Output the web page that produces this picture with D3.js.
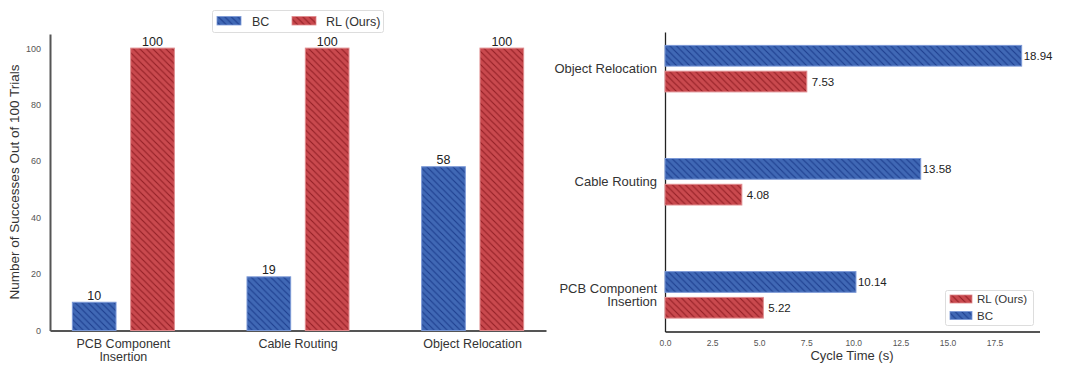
<!DOCTYPE html>
<html><head><meta charset="utf-8">
<script src="https://cdn.jsdelivr.net/npm/d3@7"></script>
<style>body{margin:0;background:#fff}svg{display:block;font-family:"Liberation Sans",Arial,sans-serif}</style>
</head><body><svg id="c" width="1080" height="369"></svg>
<script>
const tasks = ["PCB Component\nInsertion", "Cable Routing", "Object Relocation"];
const successBC = [10, 19, 58];
const successRL = [100, 100, 100];
const cycleBC = [10.14, 13.58, 18.94];
const cycleRL = [5.22, 4.08, 7.53];
const successTicks = [0, 20, 40, 60, 80, 100];
const cycleTicks = [0, 2.5, 5, 7.5, 10, 12.5, 15, 17.5];
const seriesNames = ["BC", "RL (Ours)"];

const svg = d3.select("#c");
const defs = svg.append("defs");
const colors = {BC:{fill:"#4068b5", hatch:"#1d3e8f", edge:"#7b98d6"}, RL:{fill:"#c9494e", hatch:"#931f25", edge:"#e08a8d"}};
function pattern(id, c){
  const s = 6.5;
  const p = defs.append("pattern").attr("id", id).attr("patternUnits","userSpaceOnUse").attr("width",s).attr("height",s);
  p.append("rect").attr("width",s).attr("height",s).attr("fill",c.fill);
  p.append("path").attr("d",`M-1,-1L${s+1},${s+1}M-1,${s-1}L1,${s+1}M${s-1},-1L${s+1},1`).attr("stroke",c.hatch).attr("stroke-width",1.1);
}
pattern("hBC", colors.BC); pattern("hRL", colors.RL);

// ---------- Left chart ----------
const L = svg.append("g");
const x1 = d3.scaleLinear().domain([-0.42, 2.42]).range([50, 546]);
const y1 = d3.scaleLinear().domain([0, 105]).range([330.5, 34]);
const bw = 0.25, off = 0.167;

const yAx = L.append("g").attr("transform","translate(50,0)").call(d3.axisLeft(y1).tickValues(successTicks).tickSize(0).tickPadding(9));
yAx.select(".domain").attr("stroke","#555").attr("stroke-width",2);
yAx.selectAll("text").attr("font-size",9).attr("fill","#555").attr("font-family","Liberation Sans, Arial");
const xAx = L.append("g").attr("transform","translate(0,330.5)").call(d3.axisBottom(x1).tickValues([]).tickSize(0));
xAx.select(".domain").attr("stroke","#555").attr("stroke-width",2);

tasks.forEach((t,i)=>{
  const lines = t.split("\n");
  const tx = L.append("text").attr("x", x1(i)).attr("y", 348).attr("text-anchor","middle").attr("font-size",12.5).attr("fill","#333");
  lines.forEach((ln,k)=>tx.append("tspan").attr("x", x1(i)).attr("dy", k===0?0:12.5).text(ln));
});

function vbars(vals, key, dx){
  L.selectAll(null).data(vals).enter().append("rect")
    .attr("x",(d,i)=>x1(i+dx-bw/2)).attr("width",x1(bw)-x1(0))
    .attr("y",d=>y1(d)).attr("height",d=>y1(0)-y1(d))
    .attr("fill","url(#h"+key+")").attr("stroke",colors[key].edge).attr("stroke-width",1);
  L.selectAll(null).data(vals).enter().append("text")
    .attr("x",(d,i)=>x1(i+dx)).attr("y",d=>y1(d)-2.5).attr("text-anchor","middle")
    .attr("font-size",12.5).attr("fill","#222").text(d=>d);
}
vbars(successBC,"BC",-off);
vbars(successRL,"RL",off);

L.append("text").attr("transform","translate(19,182) rotate(-90)").attr("text-anchor","middle")
  .attr("font-size",13.5).attr("fill","#333").text("Number of Successes Out of 100 Trials");

// legend top
const lg = L.append("g");
lg.append("rect").attr("x",212.5).attr("y",10.5).attr("width",171).attr("height",22).attr("rx",2).attr("fill","#fff").attr("stroke","#ddd");
[["BC",217,252],["RL",292,326]].forEach(([k,px,tx],j)=>{
  lg.append("rect").attr("x",px).attr("y",16.5).attr("width",24).attr("height",8.5).attr("fill","url(#h"+k+")").attr("stroke",colors[k].edge).attr("stroke-width",0.8);
  lg.append("text").attr("x",tx).attr("y",25.5).attr("font-size",12.5).attr("fill","#333").text(seriesNames[j]);
});

// ---------- Right chart ----------
const R = svg.append("g");
const x2 = d3.scaleLinear().domain([0, 18.94*1.05]).range([665, 1039.5]);
const y2 = d3.scaleLinear().domain([-0.324, 2.324]).range([331.5, 32]);
const bh = 0.183, off2 = 0.114;

const xAx2 = R.append("g").attr("transform","translate(0,331.5)").call(d3.axisBottom(x2).tickValues(cycleTicks).tickFormat(d3.format(".1f")).tickSize(0).tickPadding(8));
xAx2.select(".domain").attr("stroke","#555").attr("stroke-width",2);
xAx2.selectAll("text").attr("font-size",8.5).attr("fill","#555").attr("font-family","Liberation Sans, Arial");
const yAx2 = R.append("g").attr("transform","translate(665,0)").call(d3.axisLeft(y2).tickValues([]).tickSize(0));
yAx2.select(".domain").attr("stroke","#222").attr("stroke-width",1.3);

tasks.forEach((t,i)=>{
  const lines = t.split("\n");
  const y0 = y2(i) - (lines.length-1)*6.5 + 4.5;
  const tx = R.append("text").attr("x",657).attr("y",y0).attr("text-anchor","end").attr("font-size",13).attr("fill","#333");
  lines.forEach((ln,k)=>tx.append("tspan").attr("x",657).attr("dy",k===0?0:13).text(ln));
});

function hbars(vals, key, dy){
  R.selectAll(null).data(vals).enter().append("rect")
    .attr("x",x2(0)).attr("width",d=>x2(d)-x2(0))
    .attr("y",(d,i)=>y2(i+dy+bh/2)).attr("height",y2(0)-y2(bh))
    .attr("fill","url(#h"+key+")").attr("stroke",colors[key].edge).attr("stroke-width",1);
  R.selectAll(null).data(vals).enter().append("text")
    .attr("x",d=>x2(d)+ (key==="BC"?2:5)).attr("y",(d,i)=>y2(i+dy)+4).attr("font-size",11.5).attr("fill","#222")
    .text(d=>d3.format(".2f")(d));
}
hbars(cycleBC,"BC",off2);
hbars(cycleRL,"RL",-off2);

R.append("text").attr("x",852).attr("y",360).attr("text-anchor","middle").attr("font-size",13).attr("fill","#333").text("Cycle Time (s)");

const lg2 = R.append("g");
lg2.append("rect").attr("x",945.5).attr("y",290.5).attr("width",88).attr("height",35).attr("rx",2).attr("fill","#fff").attr("stroke","#ddd");
[["RL",295,"RL (Ours)"],["BC",311.5,"BC"]].forEach(([k,py,lab])=>{
  lg2.append("rect").attr("x",950).attr("y",py).attr("width",22).attr("height",8).attr("fill","url(#h"+k+")").attr("stroke",colors[k].edge).attr("stroke-width",0.8);
  lg2.append("text").attr("x",977).attr("y",py+8).attr("font-size",11.5).attr("fill","#333").text(lab);
});
</script></body></html>
